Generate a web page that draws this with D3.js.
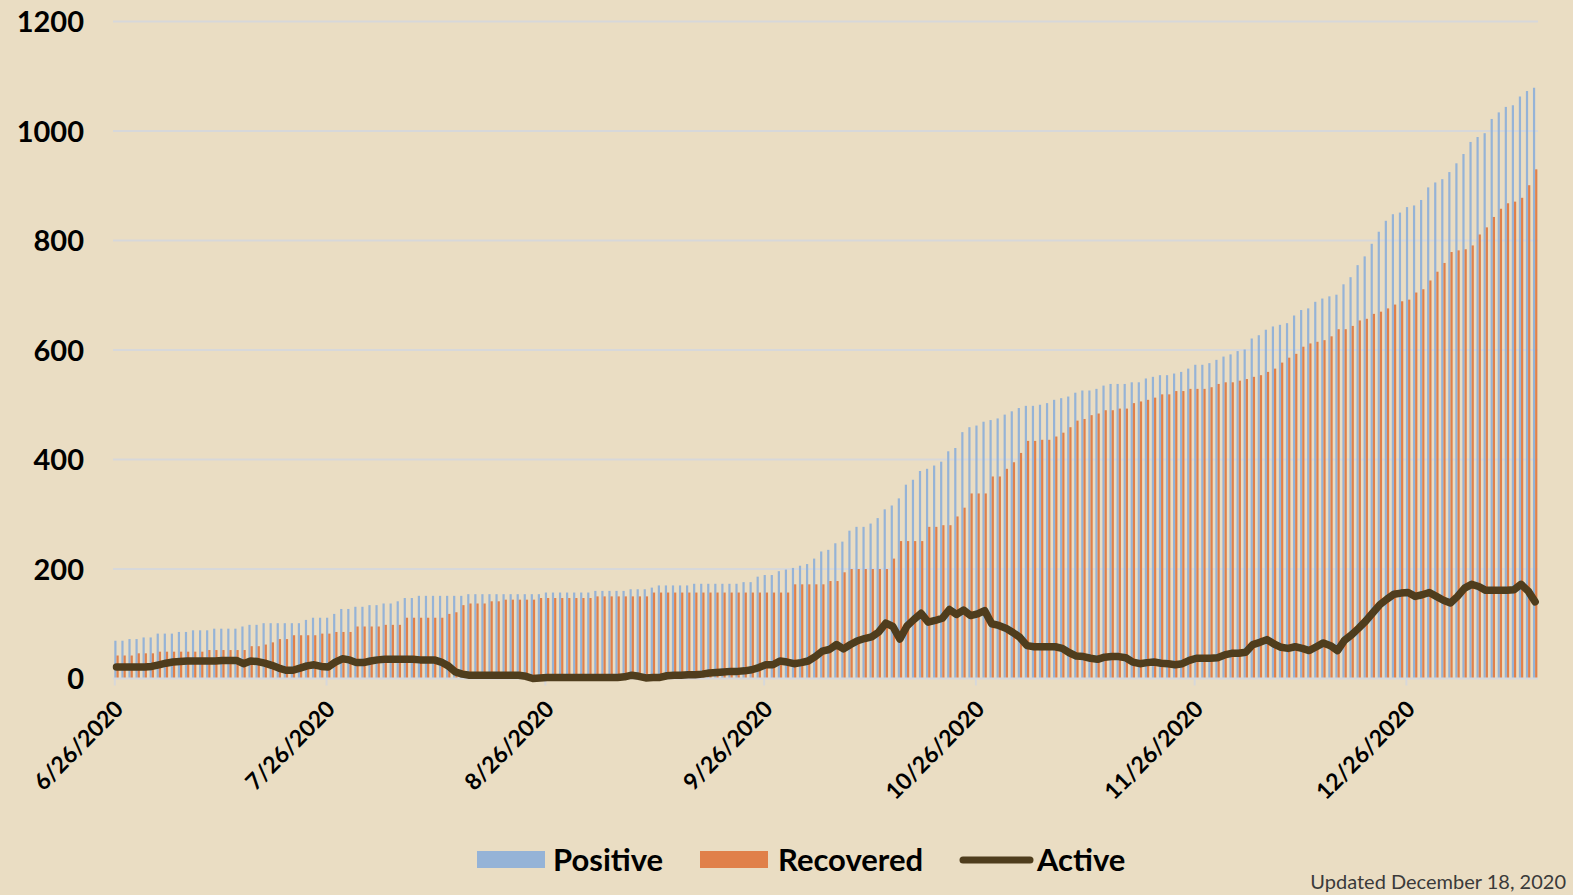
<!DOCTYPE html>
<html>
<head>
<meta charset="utf-8">
<script src="https://cdn.jsdelivr.net/npm/d3@7"></script>
<style>
  html, body { margin: 0; padding: 0; background: #EADDC3; }
  svg { display: block; }
</style>
</head>
<body>
<svg id="chart" width="1573" height="895"></svg>
<script>
// ---------------- DATA ----------------
const startDate = "6/26/2020";
const tickLabels = ["6/26/2020", "7/26/2020", "8/26/2020", "9/26/2020", "10/26/2020", "11/26/2020", "12/26/2020"];
const yTicks = [0, 200, 400, 600, 800, 1000, 1200];
const seriesNames = ["Positive", "Recovered", "Active"];

const positive = [
  69,69,72,72,75,75,82,82,82,85,85,88,88,88,91,91,91,91,95,98,
  98,101,101,101,101,101,101,107,111,111,111,118,127,127,131,131,134,134,137,137,
  141,147,147,151,151,151,151,151,151,151,154,154,154,154,154,154,154,154,154,154,
  154,157,157,157,157,157,157,157,160,160,160,160,160,163,163,163,166,170,170,170,
  170,170,173,173,173,173,173,173,173,176,176,186,189,189,196,199,202,206,209,219,
  232,235,247,250,270,277,277,283,293,309,316,329,354,363,379,383,389,396,415,421,
  450,459,462,469,472,475,482,488,494,498,498,500,503,509,512,515,522,526,526,529,
  535,538,538,538,541,541,548,551,554,554,557,560,566,573,573,576,582,588,592,598,
  601,621,627,637,643,646,649,663,673,676,688,694,698,701,720,733,755,771,794,816,
  836,848,851,861,864,874,897,906,912,925,941,958,980,989,996,1022,1034,1044,1047,1063,
  1073,1079
];
const recovered = [
  42,42,42,46,46,46,49,49,49,49,49,49,49,52,52,52,52,52,52,59,
  59,62,66,72,72,79,79,79,79,82,82,85,85,85,95,95,95,95,98,98,
  98,111,111,111,111,111,111,118,121,134,137,137,137,141,141,144,144,144,144,144,
  147,147,147,147,147,147,147,147,150,150,150,150,150,150,150,150,157,157,157,157,
  157,157,157,157,157,157,157,157,157,157,157,157,157,157,157,157,172,172,172,172,
  172,178,178,194,200,200,200,200,200,200,219,251,251,251,251,277,277,280,280,296,
  312,338,338,338,369,369,383,395,412,434,434,436,436,442,449,459,471,474,481,484,
  490,490,493,493,503,506,509,513,519,519,525,525,529,529,529,532,538,541,541,544,
  547,551,554,560,566,577,586,593,606,612,615,618,625,638,638,644,654,657,666,670,
  676,683,689,692,705,711,727,743,759,779,782,784,791,811,824,843,858,868,871,878,
  901,930
];
const active = [
  21,21,21,21,21,22,25,28,30,31,32,32,32,32,32,33,33,33,27,32,
  31,28,24,19,15,15,19,23,25,22,21,30,36,34,29,29,32,34,35,35,
  35,35,35,34,34,34,30,23,12,8,6,6,6,6,6,6,6,6,4,0,
  1,2,2,2,2,2,2,2,2,2,2,2,3,6,4,1,2,2,5,6,
  6,7,7,8,10,11,12,13,13,14,16,20,25,25,32,30,27,29,32,40,
  50,53,62,54,62,69,73,76,85,101,95,72,96,108,119,103,106,110,126,117,
  125,115,118,124,100,97,92,84,75,60,58,58,58,58,55,47,41,40,37,35,
  39,40,40,38,30,27,29,30,28,27,25,27,33,37,37,37,38,43,46,46,
  48,62,66,71,63,57,55,58,55,51,58,65,60,51,70,80,92,105,120,135,
  145,154,156,157,150,153,157,150,143,138,150,165,172,168,161,161,161,161,162,172,
  160,140
];
const updatedText = "Updated December 18, 2020";

// ---------------- CHART ----------------
const parse = d3.timeParse("%m/%d/%Y");
const fmt = d3.timeFormat("%-m/%-d/%Y");
const t0 = parse(startDate);
const dates = positive.map((_, i) => d3.timeDay.offset(t0, i));
const rows = dates.map((d, i) => ({ date: d, pos: positive[i], rec: recovered[i], act: active[i] }));

const colors = { pos: "#95B3D7", rec: "#E0804A", act: "#4F3D1D" };
const svg = d3.select("#chart");

const x = d3.scaleTime()
  .domain([dates[0], dates[dates.length - 1]])
  .range([114.3, 114.3 + (dates.length - 1) * 7.058]);
const y = d3.scaleLinear().domain([0, 1200]).range([678.5, 21.5]);

const plotLeft = 113, plotRight = 1538;
const barW = 2.2;

// gridlines
svg.append("g").selectAll("line").data(yTicks.filter(v => v > 0)).join("line")
  .attr("x1", plotLeft).attr("x2", plotRight)
  .attr("y1", d => y(d)).attr("y2", d => y(d))
  .attr("stroke", "#D7D8DA").attr("stroke-width", 2);

// y axis labels
const yAxis = d3.axisLeft(y).tickValues(yTicks).tickSize(0).tickPadding(0).tickFormat(d3.format("d"));
const gy = svg.append("g").attr("transform", "translate(84,0)").call(yAxis);
gy.select(".domain").remove();
gy.selectAll("text")
  .attr("font-family", "Lato, 'Open Sans', sans-serif")
  .attr("font-weight", 700).attr("font-size", 29).attr("fill", "#000")
  .attr("dy", "0.36em");

// bars
svg.append("g").selectAll("rect").data(rows).join("rect")
  .attr("x", d => x(d.date))
  .attr("width", barW)
  .attr("y", d => y(d.pos))
  .attr("height", d => y(0) - y(d.pos))
  .attr("fill", colors.pos);
svg.append("g").selectAll("rect").data(rows).join("rect")
  .attr("x", d => x(d.date) + barW)
  .attr("width", barW)
  .attr("y", d => y(d.rec))
  .attr("height", d => y(0) - y(d.rec))
  .attr("fill", colors.rec);

// x axis
const tickDates = tickLabels.map(parse);
const xAxis = d3.axisBottom(x).tickValues(tickDates).tickSize(7).tickPadding(0).tickFormat(fmt);
const gx = svg.append("g").attr("transform", `translate(0,${y(0)})`).call(xAxis);
gx.select(".domain").attr("d", `M${plotLeft},0H${plotRight}`).attr("stroke", "#D7D8DA").attr("stroke-width", 2);
gx.selectAll(".tick line").attr("stroke", "#D7D8DA").attr("stroke-width", 2);
gx.selectAll(".tick text")
  .attr("font-family", "Lato, 'Open Sans', sans-serif")
  .attr("font-weight", 700).attr("font-size", 23).attr("fill", "#000")
  .attr("text-anchor", "end")
  .attr("dy", null).attr("y", null)
  .attr("transform", "translate(10,32) rotate(-45)");

// active line
const line = d3.line().x(d => x(d.date) + barW).y(d => y(d.act));
svg.append("path").datum(rows)
  .attr("d", line)
  .attr("fill", "none")
  .attr("stroke", colors.act)
  .attr("stroke-width", 7.5)
  .attr("stroke-linejoin", "round")
  .attr("stroke-linecap", "round");

// legend
const lg = svg.append("g").attr("font-family", "Lato, 'Open Sans', sans-serif")
  .attr("font-weight", 700).attr("font-size", 31).attr("fill", "#000");
lg.append("rect").attr("x", 477).attr("y", 851).attr("width", 68).attr("height", 17).attr("fill", colors.pos);
lg.append("text").attr("x", 553).attr("y", 871).text(seriesNames[0]);
lg.append("rect").attr("x", 700).attr("y", 851).attr("width", 68).attr("height", 17).attr("fill", colors.rec);
lg.append("text").attr("x", 778).attr("y", 871).text(seriesNames[1]);
lg.append("line").attr("x1", 963).attr("x2", 1030).attr("y1", 860).attr("y2", 860)
  .attr("stroke", colors.act).attr("stroke-width", 7).attr("stroke-linecap", "round");
lg.append("text").attr("x", 1037).attr("y", 871).text(seriesNames[2]);

// updated note
svg.append("text").attr("x", 1566).attr("y", 889).attr("text-anchor", "end")
  .attr("font-family", "Lato, 'Open Sans', sans-serif").attr("font-size", 20).attr("fill", "#3A3A3A")
  .text(updatedText);
</script>
</body>
</html>
